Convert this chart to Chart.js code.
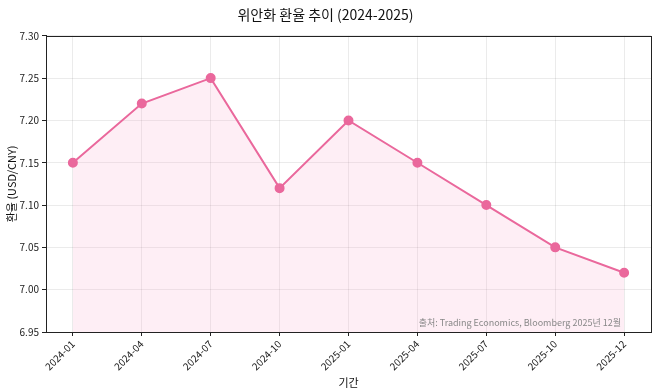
<!DOCTYPE html>
<html>
<head>
<meta charset="utf-8">
<script src="https://cdn.jsdelivr.net/npm/chart.js@4/dist/chart.umd.min.js"></script>
<style>
  html, body { margin: 0; padding: 0; background: #fff; }
  #wrap { width: 658px; height: 391px; }
</style>
</head>
<body>
<div id="wrap"><canvas id="fxChart" width="658" height="391"></canvas></div>
<script>
const periods = ['2024-01', '2024-04', '2024-07', '2024-10', '2025-01', '2025-04', '2025-07', '2025-10', '2025-12'];
const rates = [7.15, 7.22, 7.25, 7.12, 7.20, 7.15, 7.10, 7.05, 7.02];
const yTicks = [6.95, 7.00, 7.05, 7.10, 7.15, 7.20, 7.25, 7.30];
const sourceNote = '출처: Trading Economics, Bloomberg 2025년 12월';

const FONT = "'Noto Sans CJK KR', 'Noto Sans', sans-serif";

// matplotlib-style frame + source text
const framePlugin = {
    id: 'frame',
    afterDatasetsDraw(chart) {
        let a = chart.chartArea;
        let ctx = chart.ctx;
        ctx.save();
        ctx.strokeStyle = '#222';
        ctx.lineWidth = 1;
        ctx.strokeRect(Math.round(a.left) + 0.5, Math.round(a.top) + 0.5, Math.round(a.right - a.left), Math.round(a.bottom - a.top));
        ctx.fillStyle = '#888';
        ctx.font = '9px ' + FONT;
        ctx.textAlign = 'right';
        ctx.textBaseline = 'alphabetic';
        ctx.fillText(sourceNote, a.right - 30, a.bottom - 6);
        ctx.restore();
    }
};

new Chart(document.getElementById('fxChart').getContext('2d'), {
    type: 'line',
    data: {
        datasets: [{
            label: 'USD/CNY',
            data: rates.map((v, i) => ({ x: i, y: v })),
            borderColor: '#ea689c',
            borderWidth: 2,
            backgroundColor: 'rgba(247, 160, 200, 0.18)',
            fill: 'start',
            pointRadius: 4,
            pointHoverRadius: 4,
            pointBackgroundColor: '#ea689c',
            pointBorderColor: '#ea689c',
            tension: 0
        }]
    },
    options: {
        responsive: false,
        animation: false,
        layout: { padding: { top: 0, right: 7, bottom: 0, left: 0 } },
        plugins: {
            legend: { display: false },
            tooltip: { enabled: false },
            title: {
                display: true,
                text: '위안화 환율 추이 (2024-2025)',
                color: '#111',
                font: { family: FONT, size: 14, weight: 'normal' },
                padding: { top: 6, bottom: 13 }
            }
        },
        scales: {
            x: {
                type: 'linear',
                min: -0.39,
                max: 8.39,
                afterBuildTicks: scale => { scale.ticks = periods.map((p, i) => ({ value: i })); },
                afterFit: scale => { scale.height = 59; },
                ticks: {
                    callback: v => periods[v],
                    minRotation: 45,
                    maxRotation: 45,
                    color: '#222',
                    padding: 2,
                    font: { family: FONT, size: 10 }
                },
                grid: { color: 'rgba(0,0,0,0.08)', tickColor: '#222', tickLength: 4 },
                border: { color: '#222' },
                title: {
                    display: true,
                    text: '기간',
                    color: '#111',
                    font: { family: FONT, size: 11 },
                    padding: { top: 0, bottom: 2 }
                }
            },
            y: {
                min: 6.95,
                max: 7.30,
                afterBuildTicks: scale => { scale.ticks = yTicks.map(v => ({ value: v })); },
                afterFit: scale => { scale.width = 46; },
                ticks: {
                    callback: v => v.toFixed(2),
                    color: '#222',
                    padding: 3,
                    font: { family: FONT, size: 10 }
                },
                grid: { color: 'rgba(0,0,0,0.08)', tickColor: '#222', tickLength: 4 },
                border: { color: '#222' },
                title: {
                    display: true,
                    text: '환율 (USD/CNY)',
                    color: '#111',
                    font: { family: FONT, size: 11 },
                    padding: { top: 5, bottom: 0 }
                }
            }
        }
    },
    plugins: [framePlugin]
});
</script>
</body>
</html>
